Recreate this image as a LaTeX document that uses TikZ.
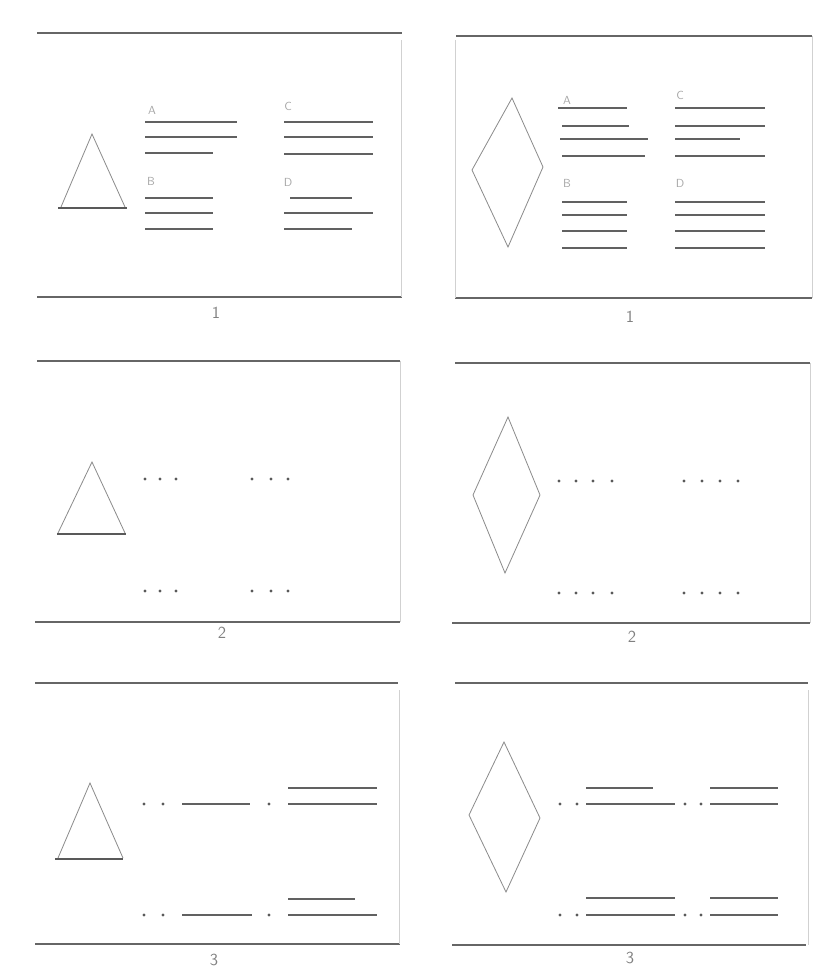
\documentclass[tikz,border=0pt]{standalone}
\usetikzlibrary{positioning}

\begin{document}
\begin{tikzpicture}[
        x=0.3mm, y=-0.3mm,
        font=\sffamily,
        rule/.style={draw=black!60, line width=1.1pt},
        side/.style={draw=black!18, line width=0.5pt},
        bar/.style={draw=black!62, line width=1.2pt},
        outline/.style={draw=black!45, line width=0.7pt},
        base/.style={draw=black!65, line width=1.2pt},
        dot/.style={fill=black!65, circle, inner sep=0pt, minimum size=2.6pt},
        letter/.style={text=black!35, font=\sffamily, inner sep=0pt},
        number/.style={text=black!50, font=\sffamily\Large, inner sep=0pt}
    ]
        \useasboundingbox (0,0) rectangle (837,971);

        % panel frames
        \draw[rule] (37,33) -- (402,33);
        \draw[rule] (37,297) -- (402,297);
        \draw[side] (401,40) -- (401,297);
        \draw[rule] (456,36) -- (812,36);
        \draw[rule] (455,298) -- (812,298);
        \draw[side] (455,40) -- (455,298);
        \draw[side] (812,36) -- (812,298);

        \draw[rule] (37,361) -- (400,361);
        \draw[rule] (35,622) -- (400,622);
        \draw[side] (400,361) -- (400,622);
        \draw[rule] (455,363) -- (810,363);
        \draw[rule] (452,623) -- (810,623);
        \draw[side] (810,363) -- (810,623);

        \draw[rule] (35,683) -- (398,683);
        \draw[rule] (35,944) -- (400,944);
        \draw[side] (399,690) -- (399,944);
        \draw[rule] (455,683) -- (808,683);
        \draw[rule] (452,945) -- (806,945);
        \draw[side] (808,690) -- (808,945);

        % panel 1, left
        \draw[outline] (61,207) -- (92,134) -- (125,207);
        \draw[base] (58,208) -- (127,208);
        \node[letter] (laA) at (152,110) {A};
        \node[letter] (laC) at (288,106) {C};
        \node[letter] (laB) at (151,181) {B};
        \node[letter] (laD) at (288,182) {D};
        \draw[bar] (145,122) -- (237,122);
        \draw[bar] (145,137) -- (237,137);
        \draw[bar] (145,153) -- (213,153);
        \draw[bar] (284,122) -- (373,122);
        \draw[bar] (284,137) -- (373,137);
        \draw[bar] (284,154) -- (373,154);
        \draw[bar] (145,198) -- (213,198);
        \draw[bar] (145,213) -- (213,213);
        \draw[bar] (145,229) -- (213,229);
        \draw[bar] (290,198) -- (352,198);
        \draw[bar] (284,213) -- (373,213);
        \draw[bar] (284,229) -- (352,229);
        \node[number] (numla) at (216,313) {1};

        % panel 1, right
        \draw[outline] (512,98) -- (543,167) -- (508,247) -- (472,170) -- cycle;
        \node[letter] (raA) at (567,100) {A};
        \node[letter] (raC) at (680,95) {C};
        \node[letter] (raB) at (567,183) {B};
        \node[letter] (raD) at (680,183) {D};
        \draw[bar] (558,108) -- (627,108);
        \draw[bar] (562,126) -- (629,126);
        \draw[bar] (560,139) -- (648,139);
        \draw[bar] (562,156) -- (645,156);
        \draw[bar] (675,108) -- (765,108);
        \draw[bar] (675,126) -- (765,126);
        \draw[bar] (675,139) -- (740,139);
        \draw[bar] (675,156) -- (765,156);
        \draw[bar] (562,202) -- (627,202);
        \draw[bar] (562,215) -- (627,215);
        \draw[bar] (562,231) -- (627,231);
        \draw[bar] (562,248) -- (627,248);
        \draw[bar] (675,202) -- (765,202);
        \draw[bar] (675,215) -- (765,215);
        \draw[bar] (675,231) -- (765,231);
        \draw[bar] (675,248) -- (765,248);
        \node[number] (numra) at (630,317) {1};

        % panel 2, left
        \draw[outline] (58,533) -- (92,462) -- (125,533);
        \draw[base] (57,534) -- (126,534);
        \node[dot] (lba1) at (145,479) {};
        \node[dot] (lba2) at (160,479) {};
        \node[dot] (lba3) at (176,479) {};
        \node[dot] (lbc1) at (252,479) {};
        \node[dot] (lbc2) at (271,479) {};
        \node[dot] (lbc3) at (288,479) {};
        \node[dot] (lbb1) at (145,591) {};
        \node[dot] (lbb2) at (160,591) {};
        \node[dot] (lbb3) at (176,591) {};
        \node[dot] (lbd1) at (252,591) {};
        \node[dot] (lbd2) at (271,591) {};
        \node[dot] (lbd3) at (288,591) {};
        \node[number] (numlb) at (222,633) {2};

        % panel 2, right
        \draw[outline] (508,417) -- (540,495) -- (505,573) -- (473,495) -- cycle;
        \node[dot] (rba1) at (559,481) {};
        \node[dot] (rba2) at (576,481) {};
        \node[dot] (rba3) at (593,481) {};
        \node[dot] (rba4) at (612,481) {};
        \node[dot] (rbc1) at (684,481) {};
        \node[dot] (rbc2) at (702,481) {};
        \node[dot] (rbc3) at (720,481) {};
        \node[dot] (rbc4) at (738,481) {};
        \node[dot] (rbb1) at (559,593) {};
        \node[dot] (rbb2) at (576,593) {};
        \node[dot] (rbb3) at (593,593) {};
        \node[dot] (rbb4) at (612,593) {};
        \node[dot] (rbd1) at (684,593) {};
        \node[dot] (rbd2) at (702,593) {};
        \node[dot] (rbd3) at (720,593) {};
        \node[dot] (rbd4) at (738,593) {};
        \node[number] (numrb) at (632,637) {2};

        % panel 3, left
        \draw[outline] (58,858) -- (90,783) -- (123,858);
        \draw[base] (55,859) -- (123,859);
        \node[dot] (lca1) at (144,804) {};
        \node[dot] (lca2) at (163,804) {};
        \draw[bar] (182,804) -- (250,804);
        \node[dot] (lcc1) at (269,804) {};
        \draw[bar] (288,788) -- (377,788);
        \draw[bar] (288,804) -- (377,804);
        \node[dot] (lcb1) at (144,915) {};
        \node[dot] (lcb2) at (163,915) {};
        \draw[bar] (182,915) -- (252,915);
        \node[dot] (lcd1) at (269,915) {};
        \draw[bar] (288,899) -- (355,899);
        \draw[bar] (288,915) -- (377,915);
        \node[number] (numlc) at (214,960) {3};

        % panel 3, right
        \draw[outline] (504,742) -- (540,818) -- (506,892) -- (469,815) -- cycle;
        \node[dot] (rca1) at (560,804) {};
        \node[dot] (rca2) at (577,804) {};
        \draw[bar] (586,788) -- (653,788);
        \draw[bar] (586,804) -- (675,804);
        \node[dot] (rcc1) at (685,804) {};
        \node[dot] (rcc2) at (701,804) {};
        \draw[bar] (710,788) -- (778,788);
        \draw[bar] (710,804) -- (778,804);
        \node[dot] (rcb1) at (560,915) {};
        \node[dot] (rcb2) at (577,915) {};
        \draw[bar] (586,898) -- (675,898);
        \draw[bar] (586,915) -- (675,915);
        \node[dot] (rcd1) at (685,915) {};
        \node[dot] (rcd2) at (701,915) {};
        \draw[bar] (710,898) -- (778,898);
        \draw[bar] (710,915) -- (778,915);
        \node[number] (numrc) at (630,958) {3};
    \end{tikzpicture}
\end{document}
